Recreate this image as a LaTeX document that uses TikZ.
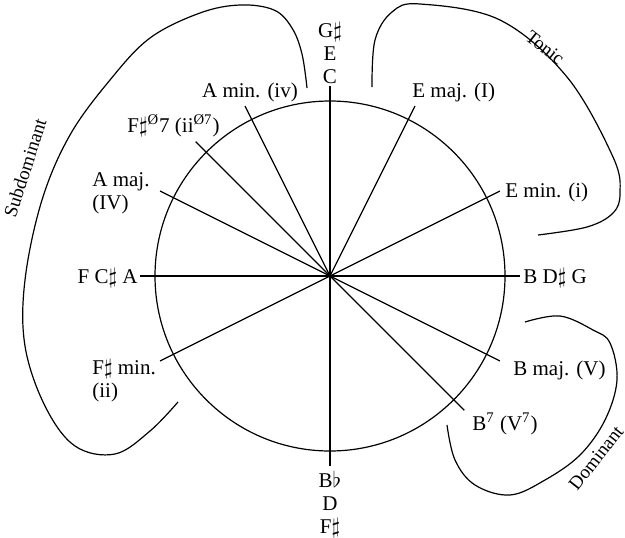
\documentclass[tikz,border=0pt]{standalone}
\usepackage{fontspec}
\setmainfont{Liberation Serif}
\usetikzlibrary{positioning}

\newcommand{\shp}{$\sharp$}
\newcommand{\flt}{$\flat$}

\tikzset{
  spoke/.style={line width=0.6pt},
  region/.style={line width=0.6pt},
  chord/.style={inner sep=0pt, font=\fontsize{10.5}{11.5}\selectfont},
  func/.style={inner sep=0pt, font=\fontsize{9.5}{11}\selectfont}
}

\begin{document}
\begin{tikzpicture}[x=0.5pt, y=0.5pt]
    \useasboundingbox (-330,-261) rectangle (295,276);

    % Circle and spokes
    \coordinate (o) at (0,0);
    \draw[spoke] (o) circle (175);
    \foreach \a/\n in {0/right, 26.57/emin, 63.43/emaj, 90/top, 116.57/amin, 135/fhd,
                       153.43/amaj, 180/left, 206.57/fmin, 270/bottom, 315/bsev, 333.43/bmaj} {
        \coordinate (\n) at (\a:190);
        \draw[spoke] (o) -- (\n);
    }

    % Chord labels
    \node[chord, anchor=south, align=center] (toplbl) at (0,192) {G\shp\\E\\C};
    \node[chord, anchor=north, align=center] (botlbl) at (0,-195) {B\flt\\D\\F\shp};
    \node[chord, anchor=base east] (leftlbl) at (-192,-7) {F C\shp\ A};
    \node[chord, anchor=base west] (rightlbl) at (193,-7) {B D\shp\ G};
    \node[chord, anchor=base] (aminlbl) at (-80,179) {A min. (iv)};
    \node[chord, anchor=base west] (emajlbl) at (82,179) {E maj. (I)};
    \node[chord, anchor=base west] (fhdlbl) at (-203,144) {F\shp\textsuperscript{Ø}7 (ii\textsuperscript{Ø7})};
    \node[chord, anchor=north west, align=left] (amajlbl) at (-238,104) {A maj.\\(IV)};
    \node[chord, anchor=north west, align=left] (fminlbl) at (-238,-83) {F\shp\ min.\\(ii)};
    \node[chord, anchor=base west] (eminlbl) at (175,79) {E min. (i)};
    \node[chord, anchor=base west] (bmajlbl) at (183,-99) {B maj. (V)};
    \node[chord, anchor=base west] (bsevlbl) at (142,-154) {B\textsuperscript{7} (V\textsuperscript{7})};

    % Function brackets
    \draw[region] plot[smooth, tension=0.6] coordinates {(-23,188) (-28,222) (-38,248) (-56,266) (-90,271)
        (-130,263) (-180,238) (-220,196) (-260,141) (-288,76) (-305,-4) (-305,-70) (-285,-130)
        (-255,-170) (-215,-178) (-180,-155) (-152,-126)};
    \draw[region] plot[smooth, tension=0.6] coordinates {(42,189) (45,236) (62,264) (90,272) (170,256)
        (237,199) (283,119) (290,83) (283,63) (257,49) (208,41)};
    \draw[region] plot[smooth, tension=0.6] coordinates {(117,-149) (125,-184) (145,-209) (180,-219)
        (215,-204) (250,-179) (275,-144) (287,-104) (280,-67) (263,-54) (230,-40) (195,-46)};

    \node[func, rotate=72] (sublbl) at (-305,108) {Subdominant};
    \node[func, rotate=-38] (toniclbl) at (215,228) {Tonic};
    \node[func, rotate=52] (domlbl) at (266,-182) {Dominant};
\end{tikzpicture}
\end{document}
